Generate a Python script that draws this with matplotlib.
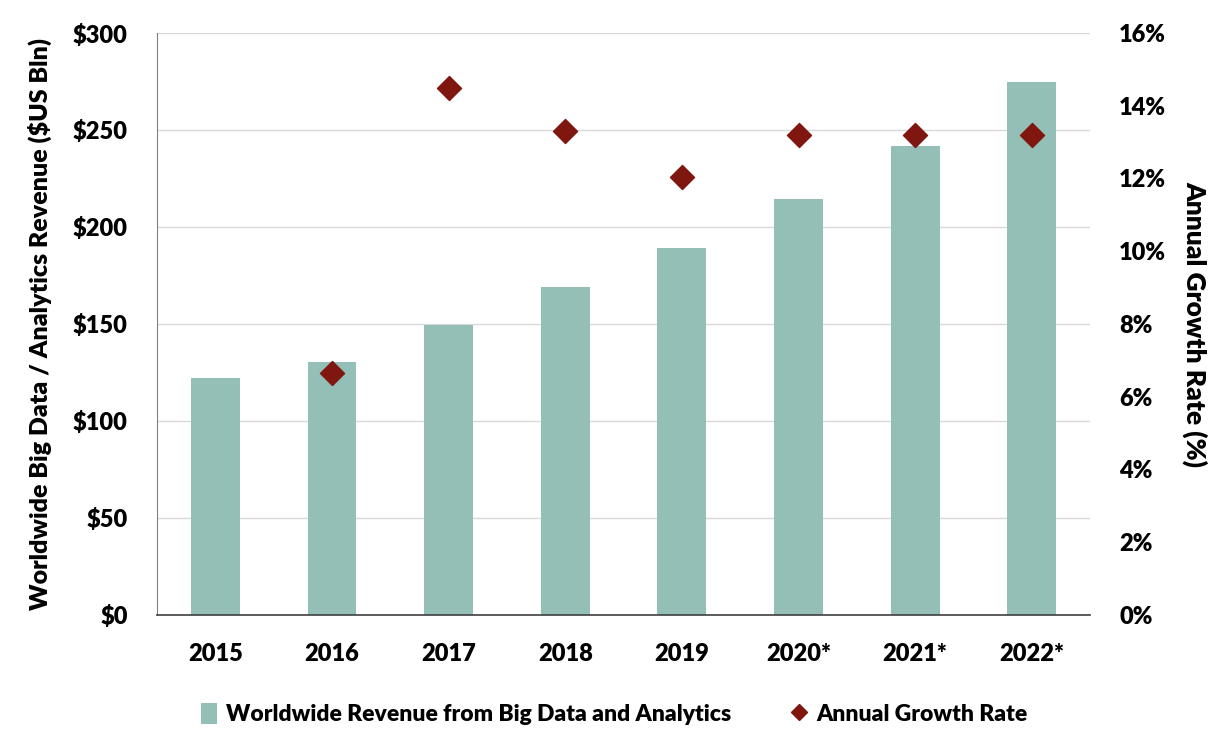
import matplotlib
matplotlib.use('Agg')
import matplotlib.pyplot as plt
from matplotlib.ticker import FuncFormatter, MultipleLocator
from matplotlib.lines import Line2D
from matplotlib.patches import Patch

# 數據
years = ['2015', '2016', '2017', '2018', '2019', '2020*', '2021*', '2022*']
revenue = [122, 130.5, 149.5, 169, 189, 214.5, 242, 274.5]
growth_years = ['2016', '2017', '2018', '2019', '2020*', '2021*', '2022*']
growth = [6.65, 14.5, 13.3, 12.05, 13.2, 13.2, 13.2]

BAR_COLOR = '#93BFB7'
MARKER_COLOR = '#7F1710'
FW = 'heavy'

plt.rcParams['font.family'] = ['Lato', 'DejaVu Sans']
plt.rcParams['font.weight'] = FW

fig = plt.figure(figsize=(12.28, 7.35), dpi=100)
ax = fig.add_axes([0.1279, 0.1633, 0.7598, 0.7918])

x = list(range(len(years)))
ax.bar(x, revenue, width=0.42, color=BAR_COLOR, zorder=2)
ax.set_xlim(-0.5, len(years) - 0.5)
ax.set_ylim(0, 300)
ax.yaxis.set_major_locator(MultipleLocator(50))
ax.yaxis.set_major_formatter(FuncFormatter(lambda v, p: f'${v:.0f}'))
ax.set_xticks(x)
ax.set_xticklabels(years, fontweight=FW)
ax.grid(axis='y', color='#D9D9D9', linewidth=1, zorder=0)
ax.set_axisbelow(True)

for s in ['top', 'right']:
    ax.spines[s].set_visible(False)
ax.spines['left'].set_color('#808080')
ax.spines['bottom'].set_color('#404040')
ax.spines['bottom'].set_linewidth(1.2)
ax.tick_params(axis='both', length=0, labelsize=17)
ax.tick_params(axis='x', pad=20)
ax.tick_params(axis='y', pad=21)
for t in ax.get_yticklabels():
    t.set_fontweight(FW)
ax.set_ylabel('Worldwide Big Data / Analytics Revenue ($US Bln)',
              fontsize=18, fontweight=FW, labelpad=15)

ax2 = ax.twinx()
gx = [years.index(g) for g in growth_years]
ax2.scatter(gx, growth, marker='D', s=150, color=MARKER_COLOR, zorder=3)
ax2.set_ylim(0, 16)
ax2.yaxis.set_major_locator(MultipleLocator(2))
ax2.yaxis.set_major_formatter(FuncFormatter(lambda v, p: f'{v:.0f}%'))
for s in ['top', 'right', 'left', 'bottom']:
    ax2.spines[s].set_visible(False)
ax2.tick_params(axis='y', length=0, labelsize=17, pad=21)
for t in ax2.get_yticklabels():
    t.set_fontweight(FW)
ax2.set_ylabel('Annual Growth Rate (%)', fontsize=19, fontweight=FW,
               rotation=270, labelpad=30)

handles = [
    Patch(facecolor=BAR_COLOR, label='Worldwide Revenue from Big Data and Analytics'),
    Line2D([], [], marker='D', linestyle='none', color=MARKER_COLOR,
           markersize=8, label='Annual Growth Rate'),
]
fig.legend(handles=handles, loc='center', bbox_to_anchor=(0.5, 0.028),
           ncol=2, frameon=False, prop={'size': 16.5, 'weight': FW},
           handlelength=0.7, handleheight=1.0, handletextpad=0.4,
           columnspacing=2.6)

fig.savefig('out.png', dpi=100)
